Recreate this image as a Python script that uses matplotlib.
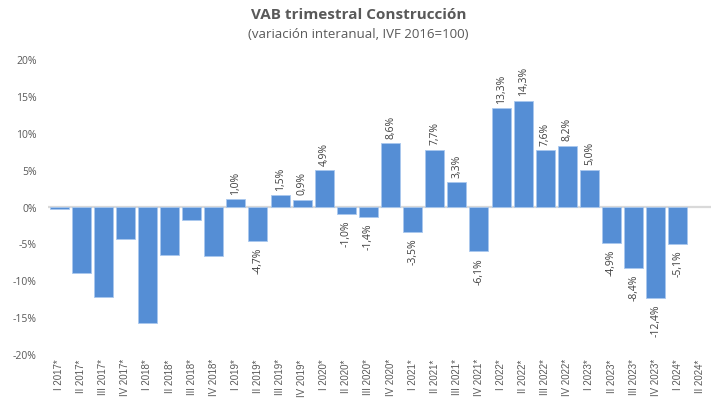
import numpy as np
import matplotlib
matplotlib.use('Agg')
import matplotlib.pyplot as plt

plt.rcParams['font.family'] = ['Open Sans', 'DejaVu Sans']

# quarters and year-on-year change (%)
quarters = ['I', 'II', 'III', 'IV']
years = [2017, 2018, 2019, 2020, 2021, 2022, 2023, 2024]
labels = ['%s %d*' % (q, y) for y in years for q in quarters][:30]
values = [-0.3, -9.0, -12.3, -4.4,
          -15.8, -6.6, -1.8, -6.7,
          1.0, -4.7, 1.5, 0.9,
          4.9, -1.0, -1.4, 8.6,
          -3.5, 7.7, 3.3, -6.1,
          13.3, 14.3, 7.6, 8.2,
          5.0, -4.9, -8.4, -12.4,
          -5.1, np.nan]
first_labelled = 8  # data labels start at I 2019

W, H = 717, 402
fig = plt.figure(figsize=(W / 100, H / 100), dpi=100)
ax = fig.add_axes([48 / W, 1 - 355 / H, 663 / W, 295 / H])

x = np.arange(len(labels))
ax.bar(x, values, width=0.86, color='#558ED5', edgecolor='#A9C8EE',
       linewidth=0.6, zorder=2)
ax.axhline(0, color='#D9D9D9', lw=1.6, zorder=1)

for i, v in enumerate(values):
    if i < first_labelled or np.isnan(v):
        continue
    txt = ('%.1f%%' % v).replace('.', ',')
    if v >= 0:
        ax.annotate(txt, (i, v), xytext=(0, 4), textcoords='offset points',
                    rotation=90, ha='center', va='bottom', fontsize=7.5,
                    color='#404040')
    else:
        ax.annotate(txt, (i, v), xytext=(0, -4), textcoords='offset points',
                    rotation=90, ha='center', va='top', fontsize=7.5,
                    color='#404040')

ax.set_xlim(-0.5, len(labels) - 0.5)
ax.set_ylim(-20, 20)
ax.set_yticks(np.arange(-20, 21, 5))
ax.set_yticklabels(['%d%%' % t for t in np.arange(-20, 21, 5)])
ax.set_xticks(x)
ax.set_xticklabels(labels, rotation=90, va='top', ha='center',
                   family=['Liberation Sans Narrow', 'Liberation Sans'],
                   fontsize=7)
ax.tick_params(axis='both', length=0, colors='#595959')
ax.tick_params(axis='y', labelsize=7.5, pad=8)
ax.tick_params(axis='x', pad=3)
for s in ax.spines.values():
    s.set_visible(False)

fig.text(0.5, 1 - 15 / H, 'VAB trimestral Construcción', ha='center',
         va='center', fontsize=11, fontweight='bold', color='#595959')
fig.text(0.5, 1 - 35 / H, '(variación interanual, IVF 2016=100)',
         ha='center', va='center', fontsize=9.5, color='#595959')

fig.savefig('out.png', dpi=100)
